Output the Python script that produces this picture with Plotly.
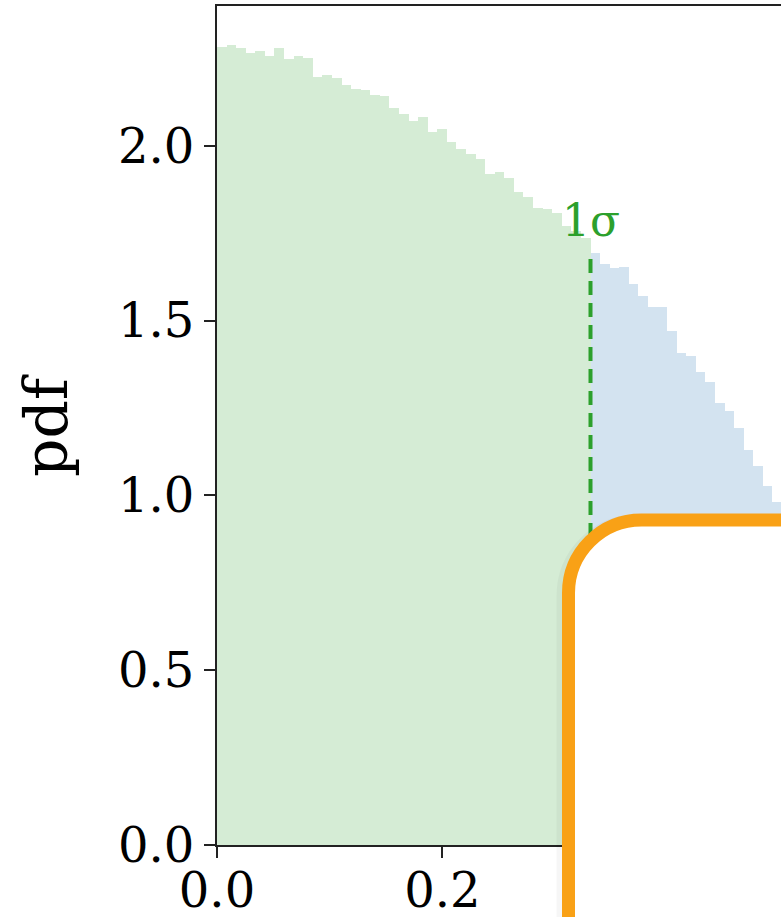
import plotly.graph_objects as go

# Histogram of the normalised samples (density per bin), bins of equal width from 0
bin_width = 0.0085
pdf_values = [
    2.284, 2.288, 2.280, 2.266, 2.271, 2.258, 2.280, 2.248, 2.256, 2.251,
    2.198, 2.202, 2.194, 2.173, 2.164, 2.159, 2.146, 2.142, 2.109, 2.092,
    2.072, 2.082, 2.041, 2.047, 2.010, 1.991, 1.978, 1.962, 1.919, 1.924,
    1.907, 1.869, 1.854, 1.821, 1.819, 1.807, 1.771, 1.756, 1.736, 1.693,
    1.661, 1.650, 1.652, 1.604, 1.570, 1.539, 1.539, 1.470, 1.408, 1.398,
    1.352, 1.324, 1.264, 1.241, 1.194, 1.131, 1.083, 1.027, 0.980,
]
sigma = 0.3315          # one-sigma boundary
sigma_label = "1σ"

x_ticks = [0.0, 0.2]
x_tick_text = ["0.0", "0.2"]
y_ticks = [0.0, 0.5, 1.0, 1.5, 2.0]
y_tick_text = ["0.0", "0.5", "1.0", "1.5", "2.0"]
y_title = "pdf"

GREEN_FILL = "rgb(213,236,213)"
BLUE_FILL = "rgb(211,227,240)"
GREEN_LINE = "rgb(44,160,44)"
ORANGE = "rgb(249,161,22)"
AXIS = "#222222"
FONT = "DejaVu Serif"

W, H = 781, 917
ML, MR, MT, MB = 217, 0, 6, 72
PW, PH = W - ML - MR, H - MT - MB

centers = [(i + 0.5) * bin_width for i in range(len(pdf_values))]
inside = [(c, v) for c, v in zip(centers, pdf_values) if c < sigma]
outside = [(c, v) for c, v in zip(centers, pdf_values) if c >= sigma]
sigma_height = outside[0][1]

fig = go.Figure()
fig.add_trace(go.Bar(
    x=[c for c, _ in inside], y=[v for _, v in inside], width=bin_width,
    marker=dict(color=GREEN_FILL, line=dict(width=0)), showlegend=False,
))
fig.add_trace(go.Bar(
    x=[c for c, _ in outside], y=[v for _, v in outside], width=bin_width,
    marker=dict(color=BLUE_FILL, line=dict(width=0)), showlegend=False,
))
# dashed marker at the one-sigma boundary
fig.add_trace(go.Scatter(
    x=[sigma, sigma], y=[0, sigma_height], mode="lines",
    line=dict(color=GREEN_LINE, width=4, dash="14px,8px"), showlegend=False,
))

fig.add_annotation(
    x=sigma, y=sigma_height, text=sigma_label, showarrow=False,
    xanchor="center", yanchor="bottom", yshift=5,
    font=dict(family=FONT, size=44, color=GREEN_LINE),
)
fig.add_annotation(
    x=0, y=0.5, xref="paper", yref="paper", text=y_title, showarrow=False,
    textangle=-90, xanchor="center", yanchor="middle", xshift=45.5 - ML,
    font=dict(family=FONT, size=60, color="black"),
)

# rounded call-out panel in the lower right, in pixel space converted to paper units
def px(x):
    return (x - ML) / PW

def py(y):
    return (H - MB - y) / PH

left, top, r = 568.5, 520.0, 73.0
k = 0.5523 * r
far_x, far_y = W + 40, H + 40
panel = (
    f"M {px(left)},{py(far_y)} L {px(left)},{py(top + r)} "
    f"C {px(left)},{py(top + r - k)} {px(left + r - k)},{py(top)} {px(left + r)},{py(top)} "
    f"L {px(far_x)},{py(top)} L {px(far_x)},{py(far_y)} Z"
)
shadow = (
    f"M {px(left - 3)},{py(far_y)} L {px(left - 3)},{py(top + r + 3)} "
    f"C {px(left - 3)},{py(top + r - k + 3)} {px(left + r - k - 3)},{py(top + 3)} {px(left + r - 3)},{py(top + 3)} "
    f"L {px(far_x)},{py(top + 3)}"
)
fig.add_shape(type="path", path=shadow, xref="paper", yref="paper", layer="above",
              line=dict(color="rgba(0,0,0,0.035)", width=18))
fig.add_shape(type="path", path=panel, xref="paper", yref="paper", layer="above",
              fillcolor="white", line=dict(color=ORANGE, width=13))

axis_common = dict(
    showline=True, linewidth=2, linecolor=AXIS, ticks="outside", ticklen=11,
    tickwidth=2, tickcolor=AXIS, showgrid=False, zeroline=False,
    tickfont=dict(family=FONT, size=48, color="black"),
)
fig.update_xaxes(range=[0, PW / 1126.7], tickvals=x_ticks, ticktext=x_tick_text,
                 mirror=True, ticklabelstandoff=-9, **axis_common)
fig.update_yaxes(range=[0, 2.40], tickvals=y_ticks, ticktext=y_tick_text,
                 mirror=False, ticklabelstandoff=0, **axis_common)

fig.update_layout(
    width=W, height=H, margin=dict(l=ML, r=MR, t=MT, b=MB, autoexpand=False),
    paper_bgcolor="white", plot_bgcolor="white", bargap=0, barmode="overlay",
    font=dict(family=FONT),
)

fig.write_html("out.html")
